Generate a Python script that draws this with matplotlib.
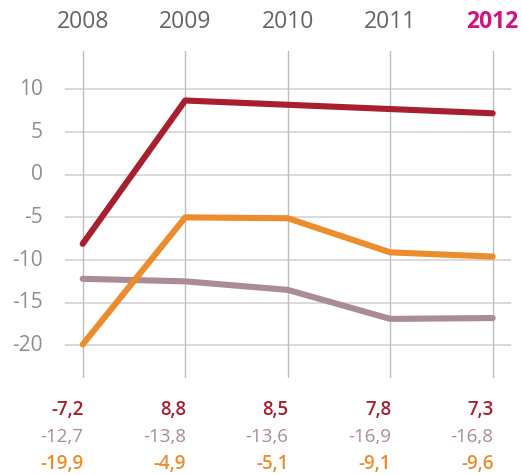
import matplotlib
matplotlib.use("Agg")
import matplotlib.pyplot as plt

plt.rcParams['font.family'] = ['Open Sans', 'DejaVu Sans']

years = ["2008", "2009", "2010", "2011", "2012"]
yticks = [10, 5, 0, -5, -10, -15, -20]

# line values
red_line = [-8.1, 8.7, 8.2, 7.7, 7.2]
mauve_line = [-12.2, -12.5, -13.5, -16.9, -16.8]
orange_line = [-19.9, -5.0, -5.1, -9.1, -9.6]

# value labels printed under the chart
red_labels = ["-7,2", "8,8", "8,5", "7,8", "7,3"]
mauve_labels = ["-12,7", "-13,8", "-13,6", "-16,9", "-16,8"]
orange_labels = ["-19,9", "-4,9", "-5,1", "-9,1", "-9,6"]

RED = "#A81F30"
MAUVE = "#AA8C98"
ORANGE = "#EC8C2C"
HIGHLIGHT = "#D4127E"

W, H = 522, 475
fig = plt.figure(figsize=(W / 100, H / 100), dpi=100)
left, right, top, bottom = 65, 511, 50.7, 378
ax = fig.add_axes([left / W, 1 - bottom / H, (right - left) / W, (bottom - top) / H])

x = list(range(len(years)))
px_per_unit = 102.5
ax.set_xlim(-(82.7 - left) / px_per_unit, (right - 82.7) / px_per_unit)
ax.set_ylim(-23.83, 14.54)

for v in yticks:
    ax.axhline(v, color="#cfcfcf", lw=1.1, zorder=1)
for xi in x:
    ax.axvline(xi, color="#bdbdbd", lw=1.0, zorder=1)

for vals, c in [(mauve_line, MAUVE), (orange_line, ORANGE), (red_line, RED)]:
    ax.plot(x, vals, color=c, lw=4.4, solid_capstyle="round",
            solid_joinstyle="round", zorder=3)

for s in ax.spines.values():
    s.set_visible(False)
ax.set_xticks([])
ax.set_yticks([])

# y tick labels
for v in yticks:
    ax.text(-(82.7 - 43) / px_per_unit, v, str(v), ha="right", va="center",
            fontsize=15, color="#8f8f8f")

# year labels on top
for xi, yr in zip(x, years):
    last = xi == len(years) - 1
    fig.text((82.7 + xi * px_per_unit) / W, 1 - 22 / H, yr, ha="center", va="center",
             fontsize=16.5, color=HIGHLIGHT if last else "#646464",
             fontweight="bold" if last else "normal")

# value table below
rows = [(red_labels, RED, 410.5, "semibold"),
        (mauve_labels, MAUVE, 437, "normal"),
        (orange_labels, ORANGE, 464, "semibold")]
for labels, c, ypx, wt in rows:
    for xi, lab in zip(x, labels):
        fig.text((83.5 + xi * px_per_unit) / W, 1 - ypx / H, lab, ha="right", va="center",
                 fontsize=13.5, color=c, fontweight=wt)

fig.savefig("out.png", dpi=100)
